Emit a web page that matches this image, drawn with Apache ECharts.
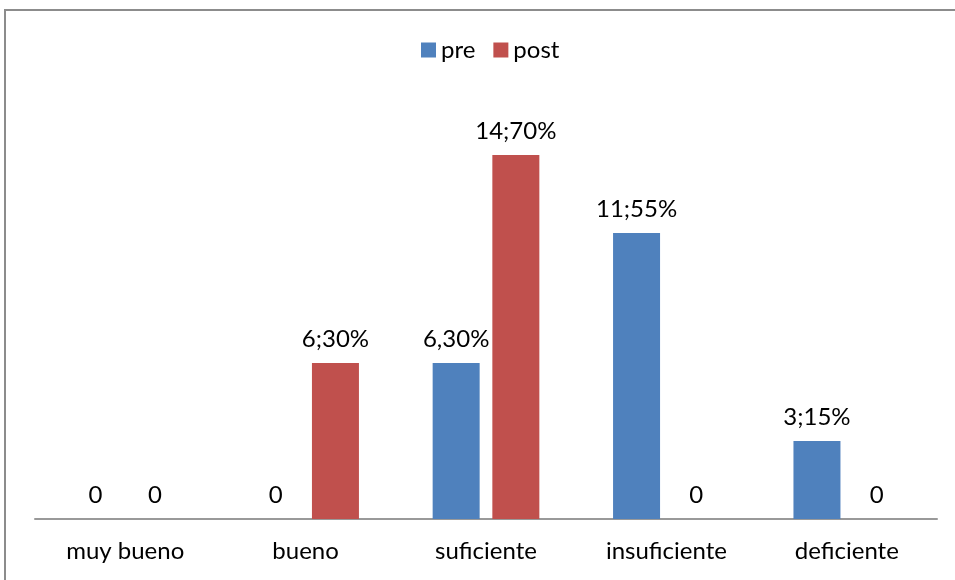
<!DOCTYPE html>
<html>
<head>
<meta charset="utf-8">
<script src="https://cdn.jsdelivr.net/npm/echarts@6/dist/echarts.min.js"></script>
<style>
  html, body { margin: 0; padding: 0; background: #fff; }
  #frame { position: absolute; left: 4px; top: 9px; width: 960px; height: 580px; border-left: 2px solid #8c8c8c; border-top: 2px solid #8c8c8c; }
  #chart { position: absolute; left: 0; top: 0; width: 955px; height: 580px; }
</style>
</head>
<body>
<div id="frame"></div>
<div id="chart"></div>
<script>
// Rating categories and counts before / after
const categories = ['muy bueno', 'bueno', 'suficiente', 'insuficiente', 'deficiente'];
const preValues = [0, 0, 6, 11, 3];
const postValues = [0, 6, 14, 0, 0];
const preLabels = ['0', '0', '6,30%', '11;55%', '3;15%'];
const postLabels = ['0', '6;30%', '14;70%', '0', '0'];

const FONT = 'Lato';
const SIZE = 24;
const chart = echarts.init(document.getElementById('chart'), null, { renderer: 'canvas' });

function labelFor(texts) {
  return {
    show: true,
    position: 'top',
    distance: 12,
    color: '#000',
    fontFamily: FONT,
    fontSize: SIZE,
    formatter: p => texts[p.dataIndex]
  };
}

chart.setOption({
  animation: false,
  backgroundColor: 'transparent',
  textStyle: { fontFamily: FONT },
  legend: {
    top: 33,
    left: 416,
    itemWidth: 15,
    itemHeight: 15,
    itemGap: 18,
    icon: 'rect',
    textStyle: { fontFamily: FONT, fontSize: SIZE, color: '#000' },
    data: ['pre', 'post']
  },
  grid: { left: 35, right: 18, top: 103, bottom: 61, containLabel: false },
  xAxis: {
    type: 'category',
    data: categories,
    axisLine: { lineStyle: { color: '#999', width: 2 } },
    axisTick: { show: false },
    axisLabel: { color: '#000', fontFamily: FONT, fontSize: SIZE, margin: 20 }
  },
  yAxis: {
    type: 'value',
    min: 0,
    max: 16,
    show: false,
    splitLine: { show: false }
  },
  series: [
    {
      name: 'pre',
      type: 'bar',
      data: preValues,
      barWidth: 47,
      barGap: '27%',
      itemStyle: { color: '#4F81BD' },
      label: labelFor(preLabels)
    },
    {
      name: 'post',
      type: 'bar',
      data: postValues,
      barWidth: 47,
      itemStyle: { color: '#C0504D' },
      label: labelFor(postLabels)
    }
  ]
});
</script>
</body>
</html>
